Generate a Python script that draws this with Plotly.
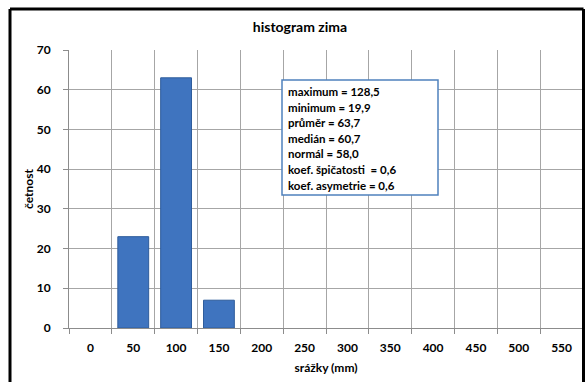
import plotly.graph_objects as go

# Histogram bins (class marks, mm) and frequencies
bins = ["0", "50", "100", "150", "200", "250", "300", "350", "400", "450", "500", "550"]
counts = [0, 23, 63, 7, 0, 0, 0, 0, 0, 0, 0, 0]

# Summary statistics shown in the text box
stat_lines = [
    "maximum = 128,5",
    "minimum = 19,9",
    "průměr = 63,7",
    "medián = 60,7",
    "normál = 58,0",
    "koef. špičatosti  = 0,6",
    "koef. asymetrie = 0,6",
]

W, H = 585, 383
ML, MR, MT, MB = 69, 2, 50, 55
PW, PH = W - ML - MR, H - MT - MB


def px_x(px):
    return (px - ML) / PW


def px_y(py):
    return (H - MB - py) / PH


FONT = "Lato"
grid = "#a6a6a6"

# empty bins are left without a bar
fig = go.Figure(
    go.Bar(
        x=bins,
        y=[c if c else None for c in counts],
        marker=dict(color="#3f74bf", line=dict(color="#2f5d9c", width=1)),
        hoverinfo="x+y",
    )
)

fig.update_layout(
    width=W,
    height=H,
    margin=dict(l=ML, r=MR, t=MT, b=MB),
    paper_bgcolor="white",
    plot_bgcolor="white",
    bargap=0.28,
    showlegend=False,
    font=dict(family=FONT, size=12, color="black"),
    title=dict(
        text="<b>histogram zima</b>",
        x=300 / W,
        xanchor="center",
        y=1 - 27 / H,
        yanchor="middle",
        font=dict(family=FONT, size=14, color="black"),
    ),
)

fig.update_xaxes(
    type="category",
    tickson="boundaries",
    showgrid=True,
    gridcolor=grid,
    gridwidth=1,
    showline=True,
    linecolor="#8c8c8c",
    ticks="outside",
    ticklen=5,
    tickcolor="#8c8c8c",
    ticklabelstandoff=9,
    tickfont=dict(family=FONT, size=12, color="black"),
    tickprefix="<b>",
    ticksuffix="</b>",
    title=dict(text="<b>srážky (mm)</b>", font=dict(family=FONT, size=12), standoff=9),
)

fig.update_yaxes(
    range=[0, 70],
    dtick=10,
    showgrid=True,
    gridcolor=grid,
    gridwidth=1,
    showline=True,
    linecolor="#8c8c8c",
    ticks="outside",
    ticklen=5,
    tickcolor="#8c8c8c",
    ticklabelstandoff=10,
    tickfont=dict(family=FONT, size=12, color="black"),
    tickprefix="<b>",
    ticksuffix="</b>",
    zeroline=False,
    title=dict(text="<b>četnost</b>", font=dict(family=FONT, size=12), standoff=0),
)

# Statistics box
fig.add_shape(
    type="rect",
    xref="paper", yref="paper",
    x0=px_x(282), x1=px_x(438),
    y0=px_y(195), y1=px_y(80),
    line=dict(color="#4f81bd", width=1.5),
    fillcolor="white",
    layer="above",
)
y0_line, step = 91.7, 15.55
for i, line in enumerate(stat_lines):
    fig.add_annotation(
        xref="paper", yref="paper",
        x=px_x(286), y=px_y(y0_line + i * step),
        xanchor="left", yanchor="middle",
        text=f"<b>{line}</b>",
        showarrow=False,
        font=dict(family=FONT, size=11.5, color="black"),
    )

# Chart frame: left, top and right edges
frame = dict(color="black", width=3)
for x0, y0, x1, y1 in [(10, H - 1, 10, 9), (10, 9, 583.5, 9), (583.5, 9, 583.5, H - 1)]:
    fig.add_shape(
        type="line",
        xref="paper", yref="paper",
        x0=px_x(x0), y0=px_y(y0), x1=px_x(x1), y1=px_y(y1),
        line=frame,
        layer="above",
    )

fig.write_html("out.html")
